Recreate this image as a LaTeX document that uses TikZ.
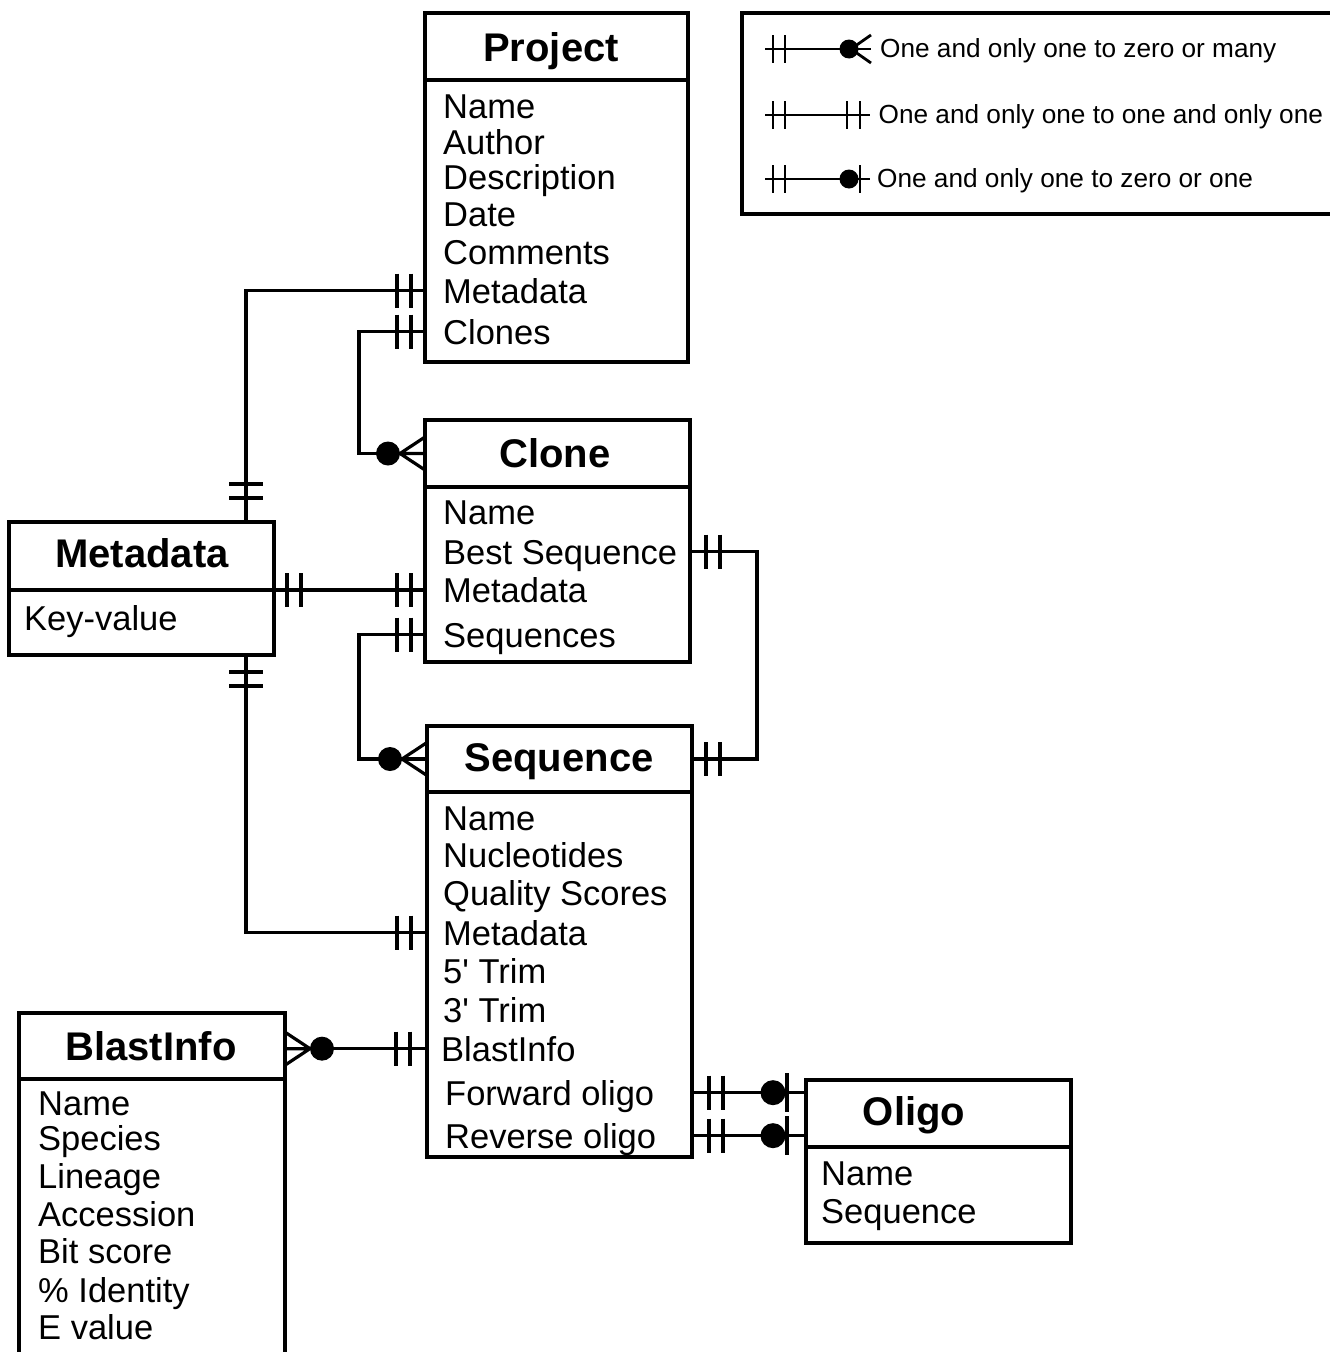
\documentclass[tikz,border=0pt]{standalone}
\usepackage{fontspec}
\setmainfont{Liberation Sans}
\usetikzlibrary{calc}
\begin{document}
\begin{tikzpicture}[x=1pt,y=-1pt,
  ent/.style={draw, line width=3.2pt, rectangle, inner sep=0pt, outer sep=0pt, anchor=north west},
  ttl/.style={anchor=base, inner sep=0pt, font=\fontsize{40}{44}\selectfont\bfseries},
  attr/.style={anchor=base west, inner sep=0pt, text height=24.7pt, text depth=0pt, font=\fontsize{34.5}{38}\selectfont},
  lgtext/.style={anchor=base west, inner sep=0pt, font=\fontsize{26.2}{30}\selectfont},
  conn/.style={line width=3.2pt},
  lg/.style={line width=2.8pt},
  dbar/.pic={\draw[line width=3.2pt] (-7,-17) -- (-7,17) (7,-17) -- (7,17);},
  zmany/.pic={\fill (-37,0) circle (12pt); \draw[line width=3.2pt] (-25,0) -- (0,-16.5) (-25,0) -- (0,16.5) (-25,0) -- (0,0);},
  zone/.pic={\fill (-33,0) circle (12.5pt); \draw[line width=3.2pt] (-19,-19.5) -- (-19,19.5);}
]
\useasboundingbox (0,0) rectangle (1330,1352);
\clip (0,0) rectangle (1330,1352);

% ---------- Project ----------
\node[ent, minimum width=263pt, minimum height=67pt] (projT) at (425,13) {};
\node[ent, minimum width=263pt, minimum height=282pt] (projB) at (425,80) {};
\node[ttl] (projTitle) at (551,61) {Project};
\node[attr] (pName) at (443,118) {Name};
\node[attr] (pAuthor) at (443,154) {Author};
\node[attr] (pDesc) at (443,189) {Description};
\node[attr] (pDate) at (443,226) {Date};
\node[attr] (pComm) at (443,264) {Comments};
\node[attr] (pMeta) at (443,303) {Metadata};
\node[attr] (pClones) at (443,344) {Clones};

% ---------- Clone ----------
\node[ent, minimum width=265pt, minimum height=67pt] (cloneT) at (425,420) {};
\node[ent, minimum width=265pt, minimum height=175pt] (cloneB) at (425,487) {};
\node[ttl] (cloneTitle) at (555,467) {Clone};
\node[attr] (cName) at (443,524) {Name};
\node[attr] (cBest) at (443,564) {Best Sequence};
\node[attr] (cMeta) at (443,602) {Metadata};
\node[attr] (cSeqs) at (443,647) {Sequences};

% ---------- Metadata ----------
\node[ent, minimum width=265pt, minimum height=68pt] (metaT) at (9,522) {};
\node[ent, minimum width=265pt, minimum height=65pt] (metaB) at (9,590) {};
\node[ttl] (metaTitle) at (142,567) {Metadata};
\node[attr] (mKey) at (24,630) {Key-value};
\coordinate (mx) at (246,0);

% ---------- Sequence ----------
\node[ent, minimum width=265pt, minimum height=66pt] (seqT) at (427,726) {};
\node[ent, minimum width=265pt, minimum height=365pt] (seqB) at (427,792) {};
\node[ttl] (seqTitle) at (559,771) {Sequence};
\node[attr] (sName) at (443,830) {Name};
\node[attr] (sNuc) at (443,867) {Nucleotides};
\node[attr] (sQual) at (443,905) {Quality Scores};
\node[attr] (sMeta) at (443,945) {Metadata};
\node[attr] (s5) at (443,983) {5\textquotesingle{} Trim};
\node[attr] (s3) at (443,1022) {3\textquotesingle{} Trim};
\node[attr] (sBlast) at (441,1061) {BlastInfo};
\node[attr] (sFwd) at (445,1105) {Forward oligo};
\node[attr] (sRev) at (445,1148) {Reverse oligo};

% ---------- BlastInfo ----------
\node[ent, minimum width=266pt, minimum height=66pt] (blastT) at (19,1013) {};
\node[ent, minimum width=266pt, minimum height=320pt] (blastB) at (19,1079) {};
\node[ttl] (blastTitle) at (151,1060) {BlastInfo};
\node[attr] (bName) at (38,1115) {Name};
\node[attr] (bSpec) at (38,1150) {Species};
\node[attr] (bLin) at (38,1188) {Lineage};
\node[attr] (bAcc) at (38,1226) {Accession};
\node[attr] (bBit) at (38,1263) {Bit score};
\node[attr] (bId) at (38,1302) {\% Identity};
\node[attr] (bE) at (38,1339) {E value};

% ---------- Oligo ----------
\node[ent, minimum width=265pt, minimum height=67pt] (oligoT) at (806,1080) {};
\node[ent, minimum width=265pt, minimum height=96pt] (oligoB) at (806,1147) {};
\node[ttl] (oligoTitle) at (914,1125) {Oligo};
\node[attr] (oName) at (821,1185) {Name};
\node[attr] (oSeq) at (821,1223) {Sequence};

% ---------- Connectors ----------
% Metadata -- Project.Metadata
\draw[conn] (metaT.north -| mx) |- (projB.west |- pMeta);
\pic at ($(projB.west |- pMeta)+(-21,0)$) {dbar};
\pic[rotate=90] at ($(metaT.north -| mx)+(0,-31)$) {dbar};
% Project.Clones -- Clone
\draw[conn] (projB.west |- pClones) -- ++(-66,0) |- (cloneT.west);
\pic at ($(projB.west |- pClones)+(-21,0)$) {dbar};
\pic at (cloneT.west) {zmany};
% Metadata -- Clone.Metadata
\draw[conn] (metaT.south east) -- (metaT.south east -| cloneB.west);
\pic at ($(metaT.south east)+(20,0)$) {dbar};
\pic at ($(metaT.south east -| cloneB.west)+(-21,0)$) {dbar};
% Clone.Sequences -- Sequence
\draw[conn] (cloneB.west |- cSeqs) -- ++(-66,0) |- (seqT.west);
\pic at ($(cloneB.west |- cSeqs)+(-21,0)$) {dbar};
\pic at (seqT.west) {zmany};
% Clone.Best Sequence -- Sequence
\draw[conn] (cloneB.east |- cBest) -- ++(67,0) |- (seqT.east);
\pic at ($(cloneB.east |- cBest)+(23,0)$) {dbar};
\pic at ($(seqT.east)+(21,0)$) {dbar};
% Metadata -- Sequence.Metadata
\draw[conn] (metaB.south -| mx) |- (seqB.west |- sMeta);
\pic[rotate=90] at ($(metaB.south -| mx)+(0,24)$) {dbar};
\pic at ($(seqB.west |- sMeta)+(-23,0)$) {dbar};
% Sequence.BlastInfo -- BlastInfo
\draw[conn] (seqB.west |- sBlast) -- (blastT.east |- sBlast);
\pic at ($(seqB.west |- sBlast)+(-24,0)$) {dbar};
\pic[rotate=180] at (blastT.east |- sBlast) {zmany};
% Sequence oligos -- Oligo
\draw[conn] (seqB.east |- sFwd) -- (oligoT.west |- sFwd);
\pic at ($(seqB.east |- sFwd)+(24,0)$) {dbar};
\pic at (oligoT.west |- sFwd) {zone};
\draw[conn] (seqB.east |- sRev) -- (oligoT.west |- sRev);
\pic at ($(seqB.east |- sRev)+(24,0)$) {dbar};
\pic at (oligoT.west |- sRev) {zone};

% ---------- Legend ----------
\node[ent, minimum width=620pt, minimum height=201pt] (legend) at (742,13) {};
\node[lgtext] (l1) at (880,57) {One and only one to zero or many};
\node[lgtext] (l2) at (878.5,123.5) {One and only one to one and only one};
\node[lgtext] (l3) at (877,187) {One and only one to zero or one};
% row 1
\draw[lg] (765,49) -- (871,49);
\draw[lg] (773,35) -- (773,63) (785,35) -- (785,63);
\fill (849,49) circle (9.5pt);
\draw[lg] (851,49) -- (871,35) (851,49) -- (871,63);
% row 2
\draw[lg] (765,115) -- (870,115);
\draw[lg] (773,101) -- (773,129) (785,101) -- (785,129);
\draw[lg] (847,101) -- (847,129) (860,101) -- (860,129);
% row 3
\draw[lg] (765,179) -- (870,179);
\draw[lg] (773,165) -- (773,193) (785,165) -- (785,193);
\fill (849,179) circle (9.5pt);
\draw[lg] (860,165) -- (860,193);
\end{tikzpicture}
\end{document}
